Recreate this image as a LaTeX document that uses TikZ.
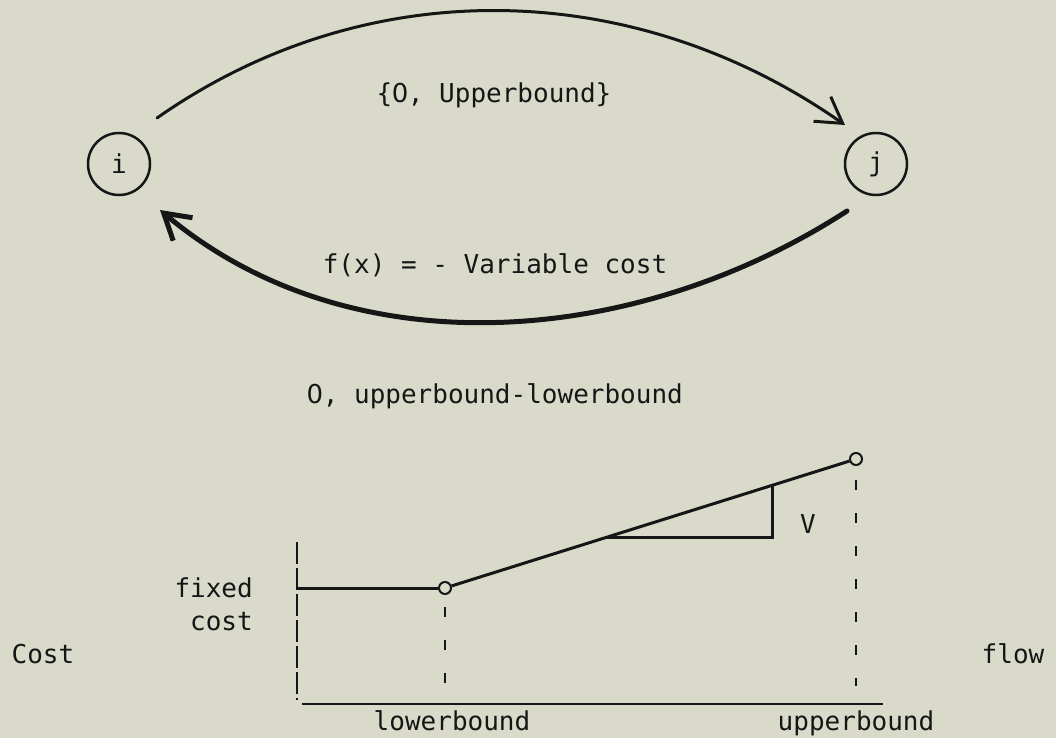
\documentclass[tikz,border=0pt]{standalone}
\usepackage{fontspec}
\newfontfamily\tw{DejaVu Sans Mono}
\newfontfamily\dvsans{DejaVu Sans}
\newcommand\zerodigit{\makebox[0.602em]{\dvsans 0}}
\usetikzlibrary{arrows.meta,calc}
\definecolor{bg}{RGB}{218,218,203}
\definecolor{ink}{RGB}{22,22,22}
\begin{document}
\begin{tikzpicture}[x=1pt,y=-1pt,
  every node/.style={font=\tw\fontsize{26}{30}\selectfont, text=ink, inner sep=0pt},
  lbl/.style={anchor=base},
  vert/.style={circle, draw=ink, line width=2.5pt, minimum size=62pt},
  pt/.style={circle, draw=ink, fill=bg, line width=2pt, minimum size=12pt},
  arcone/.style={draw=ink, line width=3pt, line cap=round, -{Straight Barb[length=25pt,width=30pt]}},
  arctwo/.style={draw=ink, line width=5pt, line cap=round, -{Straight Barb[length=25pt,width=30pt]}},
  graphline/.style={draw=ink, line width=3pt},
  axisline/.style={draw=ink, line width=2.5pt},
  longdash/.style={draw=ink, line width=2pt, dash pattern=on 22pt off 4pt},
  tickdash/.style={draw=ink, line width=2.5pt, dash pattern=on 10pt off 23pt}]
\useasboundingbox (0,0) rectangle (1056,738);
\fill[bg] (0,0) rectangle (1056,738);

% network
\node[vert] (i) at (119,164) {i};
\node[vert] (j) at (876,164) {j};
\coordinate (ia) at ($(i)+(38,-46)$);
\coordinate (jb) at ($(j)+(-31,-39)$);
\coordinate (jc) at ($(j)+(-29,47)$);
\coordinate (id) at ($(i)+(41,46)$);
\draw[arcone] (ia) .. controls +(210.5,-147.5) and +(-210.5,-147.5) .. (jb);
\draw[arctwo] (jc) .. controls +(-210,136) and +(191.5,161) .. (id);
\node[lbl] (ublabel) at (494,103) {\{\zerodigit, Upperbound\}};
\node[lbl] (vclabel) at (495,273) {f(x) = - Variable cost};
\node[lbl] (ullabel) at (495,403) {\zerodigit, upperbound-lowerbound};

% cost graph
\node[pt] (lb) at (445,588) {};
\node[pt] (ub) at (856,459) {};
\coordinate (ytop) at (297,542);
\coordinate (ybot) at (297,700);
\coordinate (fstart) at (297,588);
\draw[longdash] (ytop) -- (ybot);
\draw[graphline] (fstart) -- (lb);
\draw[graphline] (lb) -- (ub);
\coordinate (t1) at ($(lb)!0.394!(ub)$);
\coordinate (t3) at ($(lb)!0.798!(ub)$);
\draw[graphline] (t1) -- (t1 -| t3) -- (t3);
\coordinate (xl) at (302,704);
\coordinate (xr) at (883,704);
\draw[axisline] (xl) -- (xr);
\coordinate (lbdtop) at (445,607);
\coordinate (lbdbot) at (445,685);
\coordinate (ubdtop) at (856,480);
\coordinate (ubdbot) at (856,686);
\draw[tickdash] (lbdtop) -- (lbdbot);
\draw[tickdash] (ubdtop) -- (ubdbot);

\node[lbl] (vlabel) at (808,533) {V};
\node[lbl, anchor=base east] (fixedl) at (253,597) {fixed};
\node[lbl, anchor=base east] (costl) at (253,630) {cost};
\node[lbl] (costaxis) at (43,663) {Cost};
\node[lbl] (flowaxis) at (1013,663) {flow};
\node[lbl] (lowl) at (452,730) {lowerbound};
\node[lbl] (upl) at (856,730) {upperbound};
\end{tikzpicture}
\end{document}
